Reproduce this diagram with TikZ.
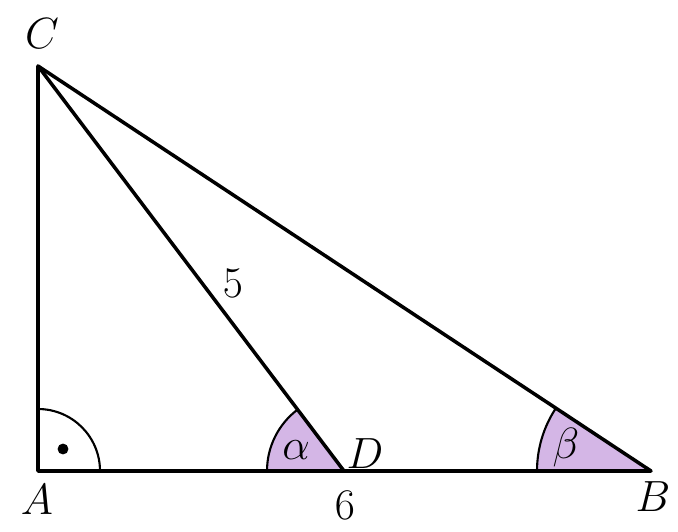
\documentclass[tikz,border=0pt]{standalone}
\usepackage{tikz}
\usetikzlibrary{calc}
\definecolor{anglefill}{RGB}{212,182,230}
\tikzset{
  side/.style={line width=2pt,line join=round},
  anglearc/.style={line width=1.2pt},
  lbl/.style={font=\fontsize{24}{28}\selectfont,inner sep=0pt}
}
\begin{document}
\begin{tikzpicture}[x=0.02cm,y=0.02cm]
\useasboundingbox (0,0) rectangle (678,531);
\coordinate (A) at (38,60);
\coordinate (B) at (651,60);
\coordinate (C) at (38,465);
\coordinate (D) at (344,60);
% the angles
\fill[anglefill] (D) -- ++(180:77) arc (180:127.07:77) -- cycle;
\draw[anglearc] ($(D)+(180:77)$) arc (180:127.07:77);
\fill[anglefill] (B) -- ++(180:114) arc (180:146.55:114) -- cycle;
\draw[anglearc] ($(B)+(180:114)$) arc (180:146.55:114);
\draw[anglearc] ($(A)+(0:62)$) arc (0:90:62);
\node[fill=black,circle,inner sep=0pt,minimum size=6.2pt] (dot) at (63,82) {};
% the triangle
\draw[side] (A) -- (B) -- (C) -- cycle;
\draw[side] (C) -- (D);
% the labels
\node[lbl] (lA) at (37,31) {$A$};
\node[lbl] (lB) at (653,34) {$B$};
\node[lbl] (lC) at (42,497) {$C$};
\node[lbl] (lD) at (365,77) {$D$};
\node[lbl] (l5) at (233,248) {$5$};
\node[lbl] (l6) at (345,26) {$6$};
\node[lbl] (la) at (296,81) {$\alpha$};
\node[lbl] (lb) at (566,83) {$\beta$};
\end{tikzpicture}
\end{document}
